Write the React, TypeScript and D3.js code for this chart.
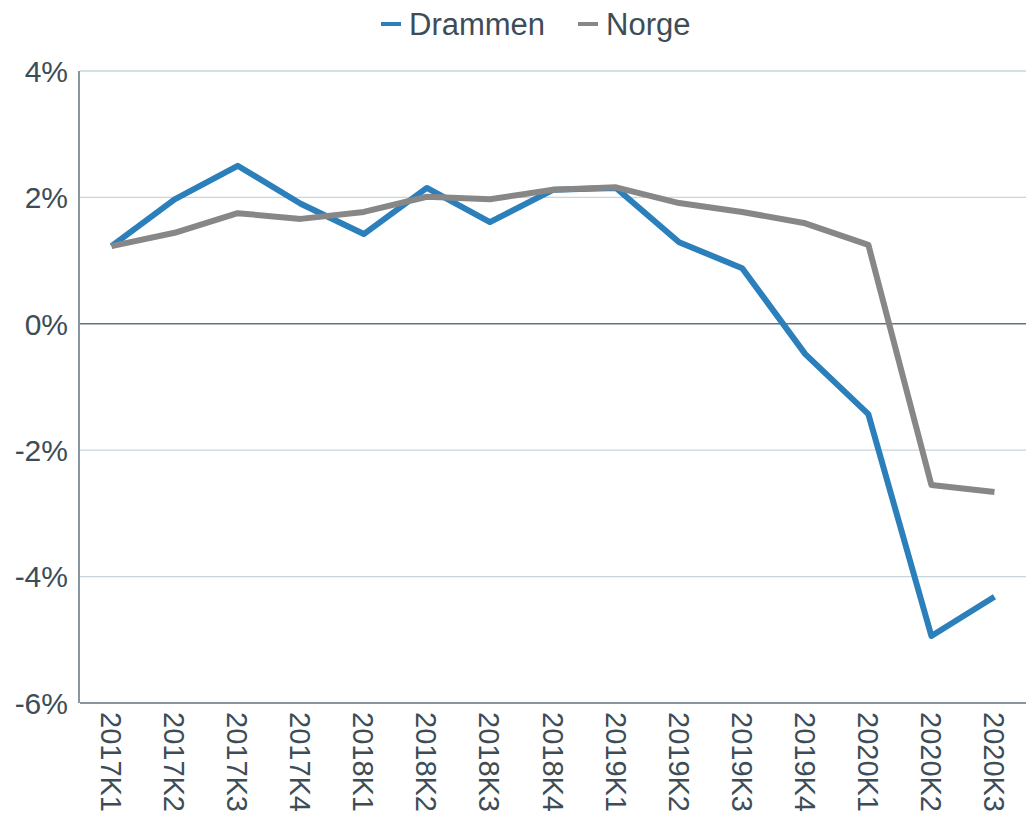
import React from "react";
import * as d3 from "d3";

const categories = ["2017K1","2017K2","2017K3","2017K4","2018K1","2018K2","2018K3","2018K4","2019K1","2019K2","2019K3","2019K4","2020K1","2020K2","2020K3"];
const drammen = [1.23, 1.97, 2.5, 1.9, 1.42, 2.15, 1.61, 2.12, 2.15, 1.29, 0.88, -0.48, -1.43, -4.94, -4.32];
const norge = [1.23, 1.44, 1.75, 1.66, 1.77, 2.01, 1.97, 2.12, 2.16, 1.91, 1.77, 1.59, 1.25, -2.55, -2.66];
const yTicks = [4, 2, 0, -2, -4, -6];
const seriesNames = ["Drammen", "Norge"];
const seriesColors = ["#2b7fba", "#878787"];

const W = 1032, H = 820;
const left = 80, right = 1026, top = 71, bottom = 703;
const textColor = "#3d4d57";
const font = "'Liberation Sans', Arial, sans-serif";

export default function App() {
  const x = d3.scaleBand<string>().domain(categories).range([left, right]);
  const y = d3.scaleLinear().domain([-6, 4]).range([bottom, top]);
  const line = d3.line<number>()
    .x((_, i) => (x(categories[i]) as number) + x.bandwidth() / 2)
    .y((d) => y(d));
  const series = [drammen, norge];
  return (
    <svg width={W} height={H} style={{ position: "absolute", left: 0, top: 0, background: "#fff" }} fontFamily={font}>
      {yTicks.map((t) => (
        <g key={t}>
          {t !== 0 && t !== -6 && (
            <line x1={left} x2={right} y1={y(t)} y2={y(t)} stroke="#c8d5db" strokeWidth={1.3} />
          )}
          <text x={68} y={y(t)} dy="0.36em" textAnchor="end" fontSize={30} fill={textColor}>
            {t}%
          </text>
        </g>
      ))}
      <line x1={left} x2={right} y1={y(0)} y2={y(0)} stroke="#5f7380" strokeWidth={1.5} />
      <line x1={left} x2={right} y1={bottom} y2={bottom} stroke="#5f7380" strokeWidth={1.5} />
      <line x1={79} x2={79} y1={top} y2={bottom} stroke="#5f7380" strokeWidth={1.5} />
      {categories.map((c) => {
        const cx = (x(c) as number) + x.bandwidth() / 2;
        return (
          <text key={c} transform={`translate(${cx},${712}) rotate(90)`} dy="0.36em" fontSize={29} fill={textColor}>
            {c}
          </text>
        );
      })}
      {series.map((s, i) => (
        <path key={i} d={line(s) || ""} fill="none" stroke={seriesColors[i]} strokeWidth={6} strokeLinejoin="round" />
      ))}
      {seriesNames.map((n, i) => {
        const lx = i === 0 ? 381 : 578;
        return (
          <g key={n}>
            <line x1={lx} x2={lx + 20} y1={24} y2={24} stroke={seriesColors[i]} strokeWidth={4} />
            <text x={lx + 28} y={24} dy="0.36em" fontSize={31} fill={textColor}>{n}</text>
          </g>
        );
      })}
    </svg>
  );
}
